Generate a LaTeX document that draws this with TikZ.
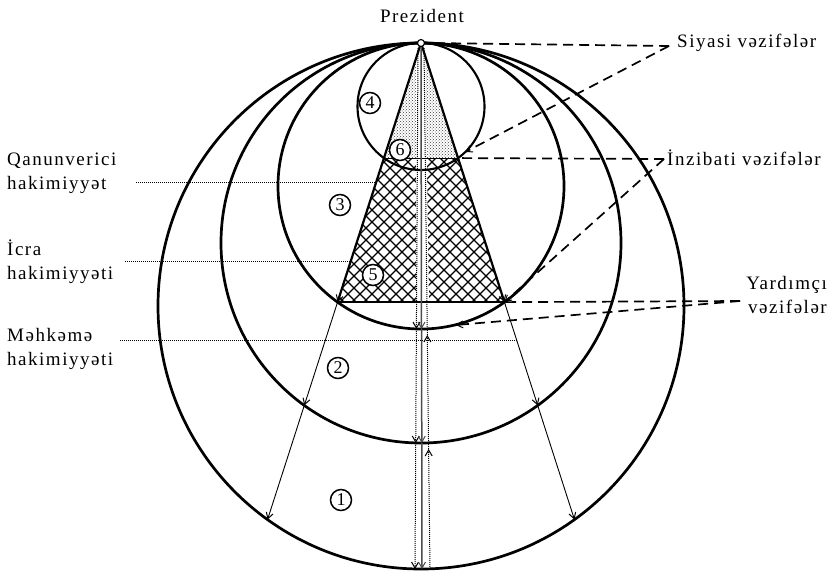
\documentclass[tikz,border=0pt]{standalone}
\usepackage{fontspec}
\newfontfamily\lblfont{Liberation Serif}[LetterSpace=8]
\newfontfamily\numfont{Liberation Serif}
\usetikzlibrary{arrows.meta,patterns}
\begin{document}
\begin{tikzpicture}[x=1pt,y=-1pt,
  circ/.style={line width=2.7pt},
  side/.style={line width=2.2pt},
  ray/.style={line width=0.9pt},
  vdot/.style={line width=1pt, dash pattern=on 1pt off 1pt},
  lead/.style={line width=1pt, dash pattern=on 1pt off 1pt},
  dashline/.style={line width=1.7pt, dash pattern=on 10pt off 6pt},
  tip/.style={-{Straight Barb[length=6pt,width=7pt,line width=1pt]}},
  num/.style={circle, draw, line width=1.5pt, fill=white, inner sep=0pt, minimum size=21pt, font=\numfont\fontsize{18}{18}\selectfont},
  lbl/.style={font=\lblfont\fontsize{19}{24}\selectfont, inner sep=0pt, align=left},
  hatch/.style={line width=1.3pt}]
\useasboundingbox (0,0) rectangle (835,576);
% key points
\coordinate (P) at (421,43);
\coordinate (c4L) at (383.95,158.07); \coordinate (c4R) at (458.05,158.07);
\coordinate (c3L) at (337.56,302.13); \coordinate (c3R) at (504.44,302.13);
\coordinate (c2L) at (304.30,405.42); \coordinate (c2R) at (537.70,405.42);
\coordinate (c1L) at (267.54,519.58); \coordinate (c1R) at (574.46,519.58);
% fills
\fill[pattern=crosshatch dots, pattern color=black!75] (P) -- (c4R) -- (c4L) -- cycle;
\begin{scope}
  \clip (c4L) -- (c4R) -- (c3R) -- (c3L) -- cycle;
  \foreach \k in {0,...,40} {
    \draw[hatch] (180+\k*12,150) -- ++(160,160);
    \draw[hatch] (180+\k*12,150) -- ++(-160,160);
  }
\end{scope}
\begin{scope}
  \clip (P) -- (c3R) -- (c3L) -- cycle;
  \fill[white] (416,45) -- (425,45) -- (429,303) -- (416,303) -- cycle;
\end{scope}
% circles
\draw[circ] (421,306) circle[radius=263pt];
\draw[circ] (421,243) circle[radius=200pt];
\draw[circ] (421,186) circle[radius=143pt];
\draw[line width=2.1pt] (421,106.5) circle[radius=63.5pt];
% triangle
\draw[side,tip] (P) -- (c3L);
\draw[side,tip] (P) -- (c3R);
\draw[line width=1.1pt] (c4L) -- (c4R);
\draw[side] (c3L) -- (c3R);
% rays
\draw[ray,tip] (c3L) -- (c2L);
\draw[ray,tip] (c2L) -- (c1L);
\draw[ray,tip] (c3R) -- (c2R);
\draw[ray,tip] (c2R) -- (c1R);
% vertical channel
\coordinate (a0) at (418,48); \coordinate (a1) at (416.4,329); \coordinate (a2) at (415.7,443); \coordinate (a3) at (415,569);
\coordinate (b0) at (421,46); \coordinate (b1) at (421.5,329); \coordinate (b2) at (421.8,443); \coordinate (b3) at (422,569);
\coordinate (d0) at (424,48); \coordinate (d1) at (427.3,335); \coordinate (d2) at (428.6,449); \coordinate (d3) at (430,569);
\draw[vdot,tip] (a0) -- (a1); \draw[vdot,tip] (a1) -- (a2); \draw[vdot,tip] (a2) -- (a3);
\draw[line width=1.5pt,black!70,tip] (b0) -- (b1); \draw[line width=1.5pt,black!70,tip] (b1) -- (b2); \draw[line width=1.5pt,black!70,tip] (b2) -- (b3);
\draw[vdot,tip] (d3) -- (d2); \draw[vdot,tip] (d2) -- (d1); \draw[vdot] (d1) -- (d0);
% left leaders
\coordinate (qL) at (136,182); \coordinate (qR) at (376.2,182);
\coordinate (iL) at (125,261); \coordinate (iR) at (350.8,261);
\coordinate (mL) at (120,340); \coordinate (mR) at (516.6,340);
\draw[lead] (qL) -- (qR);
\draw[lead] (iL) -- (iR);
\draw[lead] (mL) -- (mR);
% right dashed connectors
\coordinate (sJ) at (669,46); \coordinate (sP) at (428,43); \coordinate (s4) at (465.3,152);
\coordinate (iJ) at (664,159);
\coordinate (yJ) at (740,301); \coordinate (y3) at (456,325);
\draw[dashline] (sJ) -- (sP);
\draw[dashline,tip] (sJ) -- (s4);
\draw[dashline] (iJ) -- (c4R);
\draw[dashline,tip] (iJ) -- (c3R);
\draw[dashline] (yJ) -- (c3R);
\draw[dashline,tip] (yJ) -- (y3);
% president point
\node[circle, draw, fill=white, line width=1.1pt, inner sep=0pt, minimum size=7pt] (Pm) at (P) {};
% circled numbers
\node[num] (n1) at (341,500) {1};
\node[num] (n2) at (338,368) {2};
\node[num] (n3) at (340,205) {3};
\node[num] (n4) at (370,103) {4};
\node[num] (n5) at (373,275) {5};
\node[num] (n6) at (400,150) {6};
% labels
\node[lbl, anchor=center] (pres) at (422,16) {Prezident};
\node[lbl, anchor=west] (siy) at (677,43) {Siyasi vəzifələr};
\node[lbl, anchor=west] (inz) at (667,158) {İnzibati vəzifələr};
\node[lbl, anchor=east, align=right] (yar) at (827,295) {Yardımçı\\vəzifələr};
\node[lbl, anchor=west] (qan) at (7,173) {Qanunverici\\hakimiyyət};
\node[lbl, anchor=west] (icr) at (7,262) {İcra\\hakimiyyəti};
\node[lbl, anchor=west] (meh) at (7,349) {Məhkəmə\\hakimiyyəti};
\end{tikzpicture}
\end{document}
